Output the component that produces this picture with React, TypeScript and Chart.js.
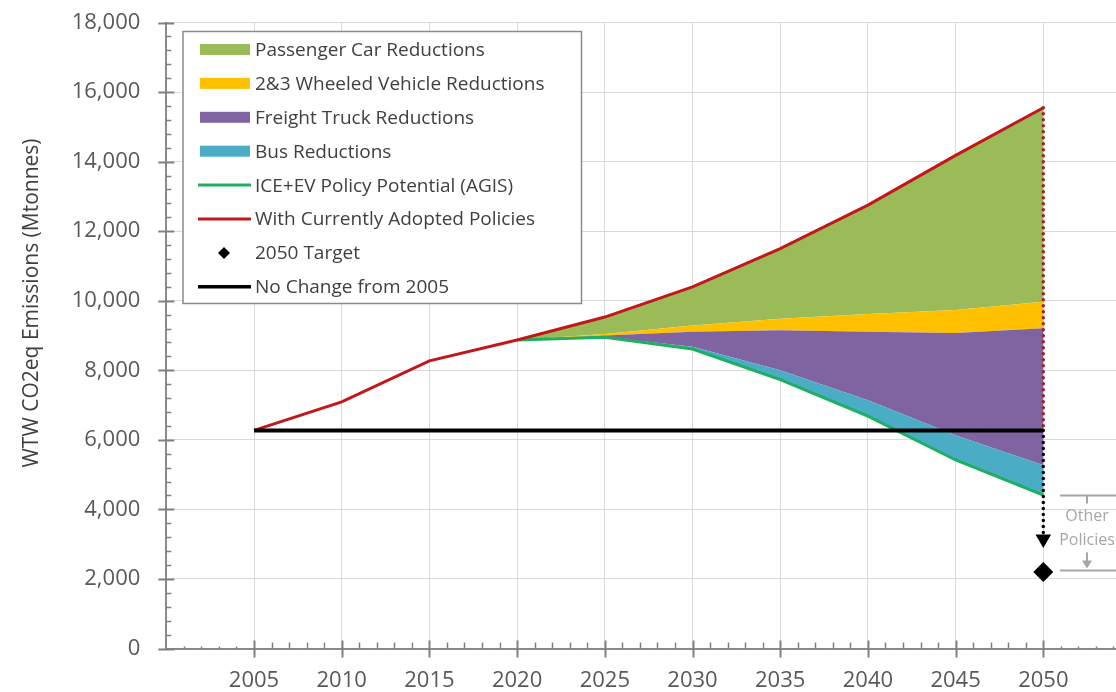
import React, { useEffect, useRef } from 'react';
import { Chart, registerables } from 'chart.js';

Chart.register(...registerables);

// ---------- data ----------
const years = [2005, 2010, 2015, 2020, 2025, 2030, 2035, 2040, 2045, 2050];
const currentPolicies = [6270, 7090, 8270, 8870, 9530, 10400, 11500, 12750, 14180, 15550];

const policyYears = [2020, 2025, 2030, 2035, 2040, 2045, 2050];
const wheeledTop = [8870, 9040, 9290, 9480, 9620, 9730, 9970];
const freightTop = [8870, 9000, 9110, 9150, 9110, 9070, 9210];
const busTop = [8870, 8960, 8680, 8000, 7140, 6130, 5270];
const iceEvPotential = [8870, 8950, 8610, 7730, 6680, 5420, 4410];

const noChangeYears = [2005, 2050];
const noChangeLevel = 6270;
const targetYear = 2050;
const target2050 = 2200;
const arrowValue = 3150;

const xTickLabels = ['2005', '2010', '2015', '2020', '2025', '2030', '2035', '2040', '2045', '2050'];
const yTitle = 'WTW CO2eq Emissions (Mtonnes)';
const otherPolicyText = ['Other', 'Policies'];

const legendLabels = [
  'Passenger Car Reductions',
  '2&3 Wheeled Vehicle Reductions',
  'Freight Truck Reductions',
  'Bus Reductions',
  'ICE+EV Policy Potential (AGIS)',
  'With Currently Adopted Policies',
  '2050 Target',
  'No Change from 2005',
];
const legendKinds = ['box', 'box', 'box', 'box', 'line', 'line', 'diamond', 'line'];

// ---------- styles ----------
const C_PASS = '#9BBB59';
const C_WHEEL = '#FFC000';
const C_FREIGHT = '#8064A2';
const C_BUS = '#4BACC6';
const C_ICE = '#1FAF60';
const C_RED = '#C0181B';
const C_BLACK = '#000000';
const legendColors = [C_PASS, C_WHEEL, C_FREIGHT, C_BUS, C_ICE, C_RED, C_BLACK, C_BLACK];
const FONT = "'Open Sans', 'Liberation Sans', sans-serif";
const CANVAS_W = 1131;
const CANVAS_H = 692;

const pts = (xs: number[], ys: number[]) => xs.map((x, i) => ({ x, y: ys[i] }));

const decorPlugin = {
  id: 'decor',
  afterDraw(chart: any) {
    const { ctx, scales } = chart;
    const xs = scales.x;
    const ys = scales.y;
    const left = xs.left;
    const bottom = ys.bottom;
    ctx.save();

    // axis ticks
    ctx.strokeStyle = '#808080';
    for (let v = 0; v <= 18000; v += 400) {
      const py = Math.round(ys.getPixelForValue(v)) + 0.5;
      const major = v % 2000 === 0;
      ctx.lineWidth = major ? 2 : 1.5;
      ctx.beginPath();
      ctx.moveTo(major ? left - 8 : left, py);
      ctx.lineTo(left + (major ? 8 : 5), py);
      ctx.stroke();
    }
    for (let yr = 2001; yr <= 2055; yr++) {
      const px = Math.round(xs.getPixelForValue(yr)) + 0.5;
      const major = yr % 5 === 0 && yr >= 2005 && yr <= 2050;
      const inside = yr >= 2005 && yr <= 2050;
      ctx.lineWidth = major ? 2 : 1.5;
      ctx.beginPath();
      if (major) {
        ctx.moveTo(px, bottom - 8);
        ctx.lineTo(px, bottom + 9);
      } else {
        ctx.moveTo(px, bottom - (inside ? 6 : 2));
        ctx.lineTo(px, bottom);
      }
      ctx.stroke();
    }

    // y axis title
    ctx.save();
    ctx.translate(32, 303);
    ctx.rotate(-Math.PI / 2);
    ctx.fillStyle = '#404040';
    ctx.font = `21px ${FONT}`;
    ctx.textAlign = 'center';
    ctx.textBaseline = 'middle';
    ctx.fillText(yTitle, 0, 0);
    ctx.restore();

    // legend
    const bx = 183, by = 31.5, bw = 398.5, bh = 272;
    ctx.fillStyle = '#ffffff';
    ctx.fillRect(bx, by, bw, bh);
    ctx.strokeStyle = '#8a8a8a';
    ctx.lineWidth = 1.5;
    ctx.strokeRect(bx, by, bw, bh);
    ctx.font = `19px ${FONT}`;
    ctx.textBaseline = 'middle';
    ctx.textAlign = 'left';
    legendLabels.forEach((label, i) => {
      const cy = 49.5 + i * 33.9;
      const kind = legendKinds[i];
      const col = legendColors[i];
      if (kind === 'box') {
        ctx.fillStyle = col;
        ctx.fillRect(200, cy - 5.5, 50, 11);
      } else if (kind === 'line') {
        ctx.strokeStyle = col;
        ctx.lineWidth = i === 7 ? 3.5 : 3;
        ctx.beginPath();
        ctx.moveTo(198, cy);
        ctx.lineTo(251, cy);
        ctx.stroke();
      } else {
        ctx.fillStyle = col;
        ctx.beginPath();
        ctx.moveTo(224, cy - 6);
        ctx.lineTo(230, cy);
        ctx.lineTo(224, cy + 6);
        ctx.lineTo(218, cy);
        ctx.closePath();
        ctx.fill();
      }
      ctx.fillStyle = '#404040';
      ctx.fillText(label, 255, cy + 1);
    });

    // "Other Policies" bracket
    const topY = Math.round(ys.getPixelForValue(iceEvPotential[iceEvPotential.length - 1])) + 0.5;
    const botY = Math.round(ys.getPixelForValue(target2050)) - 1.5;
    const ax = 1087;
    ctx.strokeStyle = '#A6A6A6';
    ctx.fillStyle = '#A6A6A6';
    ctx.lineWidth = 2;
    ctx.beginPath();
    ctx.moveTo(1060, topY);
    ctx.lineTo(1140, topY);
    ctx.moveTo(ax, topY);
    ctx.lineTo(ax, topY + 8);
    ctx.moveTo(1060, botY);
    ctx.lineTo(1140, botY);
    ctx.moveTo(ax, botY - 18);
    ctx.lineTo(ax, botY - 6);
    ctx.stroke();
    ctx.beginPath();
    ctx.moveTo(ax - 5, botY - 10);
    ctx.lineTo(ax + 5, botY - 10);
    ctx.lineTo(ax, botY - 2);
    ctx.closePath();
    ctx.fill();
    ctx.font = `16px ${FONT}`;
    ctx.textAlign = 'center';
    ctx.fillText(otherPolicyText[0], ax, topY + 21);
    ctx.fillText(otherPolicyText[1], ax, topY + 45);

    ctx.restore();
  },
};

export default function App() {
  const ref = useRef<HTMLCanvasElement>(null);

  useEffect(() => {
    if (!ref.current) return;
    const last = currentPolicies.length - 1;
    const chart = new Chart(ref.current, {
      type: 'line',
      data: {
        datasets: [
          {
            label: legendLabels[0],
            data: pts(policyYears, currentPolicies.slice(3)),
            fill: 1,
            backgroundColor: C_PASS,
            borderColor: 'transparent',
            borderWidth: 0,
            pointRadius: 0,
            order: 10,
          },
          {
            label: legendLabels[1],
            data: pts(policyYears, wheeledTop),
            fill: 2,
            backgroundColor: C_WHEEL,
            borderColor: 'transparent',
            borderWidth: 0,
            pointRadius: 0,
            order: 9,
          },
          {
            label: legendLabels[2],
            data: pts(policyYears, freightTop),
            fill: 3,
            backgroundColor: C_FREIGHT,
            borderColor: 'transparent',
            borderWidth: 0,
            pointRadius: 0,
            order: 8,
          },
          {
            label: legendLabels[3],
            data: pts(policyYears, busTop),
            fill: 4,
            backgroundColor: C_BUS,
            borderColor: 'transparent',
            borderWidth: 0,
            pointRadius: 0,
            order: 7,
          },
          {
            label: legendLabels[4],
            data: pts(policyYears, iceEvPotential),
            fill: false,
            borderColor: C_ICE,
            borderWidth: 3,
            pointRadius: 0,
            order: 5,
          },
          {
            label: legendLabels[5],
            data: pts(years, currentPolicies),
            fill: false,
            borderColor: C_RED,
            borderWidth: 3,
            pointRadius: 0,
            order: 4,
          },
          {
            label: legendLabels[7],
            data: pts(noChangeYears, [noChangeLevel, noChangeLevel]),
            fill: false,
            borderColor: C_BLACK,
            borderWidth: 4,
            pointRadius: 0,
            order: 3,
          },
          {
            label: 'gap-red',
            data: pts([targetYear, targetYear], [currentPolicies[last], noChangeLevel]),
            fill: false,
            borderColor: '#9B2226',
            borderWidth: 3.5,
            borderDash: [0, 6],
            borderCapStyle: 'round',
            pointRadius: 0,
            order: 2,
          },
          {
            label: 'gap-black',
            data: pts([targetYear, targetYear], [noChangeLevel, arrowValue]),
            fill: false,
            borderColor: C_BLACK,
            borderWidth: 3.5,
            borderDash: [0, 6],
            borderCapStyle: 'round',
            pointRadius: [0, 9],
            pointStyle: 'triangle',
            pointRotation: 180,
            pointBackgroundColor: C_BLACK,
            pointBorderColor: C_BLACK,
            pointBorderWidth: 0,
            order: 1,
          },
          {
            label: legendLabels[6],
            data: pts([targetYear], [target2050]),
            showLine: false,
            fill: false,
            pointStyle: 'rectRot',
            pointRadius: 10,
            pointBackgroundColor: C_BLACK,
            pointBorderColor: C_BLACK,
            pointBorderWidth: 0,
            order: 0,
          },
        ] as any,
      },
      options: {
        animation: false,
        responsive: false,
        maintainAspectRatio: false,
        devicePixelRatio: 1,
        events: [],
        layout: { autoPadding: false, padding: { top: 22.5, right: 0, bottom: 0, left: 0 } },
        plugins: { legend: { display: false }, tooltip: { enabled: false } },
        elements: { line: { tension: 0 } },
        scales: {
          x: {
            type: 'linear',
            min: 2000,
            max: 2055,
            afterFit: (s: any) => {
              s.height = 43.5;
              s.paddingRight = 0;
              s.paddingLeft = 0;
            },
            ticks: {
              stepSize: 5,
              autoSkip: false,
              maxRotation: 0,
              padding: 19,
              color: '#595959',
              font: { family: FONT, size: 22 },
              callback: (v: any) => {
                const s = String(v);
                return xTickLabels.includes(s) ? s : '';
              },
            },
            grid: {
              drawTicks: false,
              lineWidth: 1,
              color: (c: any) => {
                const v = c.tick?.value;
                return v >= 2005 && v <= 2050 ? '#D9D9D9' : 'transparent';
              },
            },
            border: { display: true, color: '#8a8a8a', width: 2 },
          },
          y: {
            min: 0,
            max: 18000,
            afterFit: (s: any) => {
              s.width = 166.3;
              s.paddingTop = 0;
              s.paddingBottom = 0;
            },
            ticks: {
              stepSize: 2000,
              padding: 26,
              color: '#595959',
              font: { family: FONT, size: 22 },
              callback: (v: any) => Number(v).toLocaleString('en-US'),
            },
            grid: {
              drawTicks: false,
              lineWidth: 1,
              color: (c: any) => (c.tick?.value > 0 ? '#D9D9D9' : 'transparent'),
            },
            border: { display: true, color: '#8a8a8a', width: 2 },
          },
        },
      } as any,
      plugins: [decorPlugin],
    });
    return () => chart.destroy();
  }, []);

  return (
    <div
      style={{
        position: 'fixed',
        left: 0,
        top: 0,
        width: 1116,
        height: 692,
        overflow: 'hidden',
        background: '#ffffff',
      }}
    >
      <div style={{ width: CANVAS_W, height: CANVAS_H, position: 'relative' }}>
        <canvas
          ref={ref}
          width={CANVAS_W}
          height={CANVAS_H}
          style={{ display: 'block', width: CANVAS_W, height: CANVAS_H }}
        />
      </div>
    </div>
  );
}
